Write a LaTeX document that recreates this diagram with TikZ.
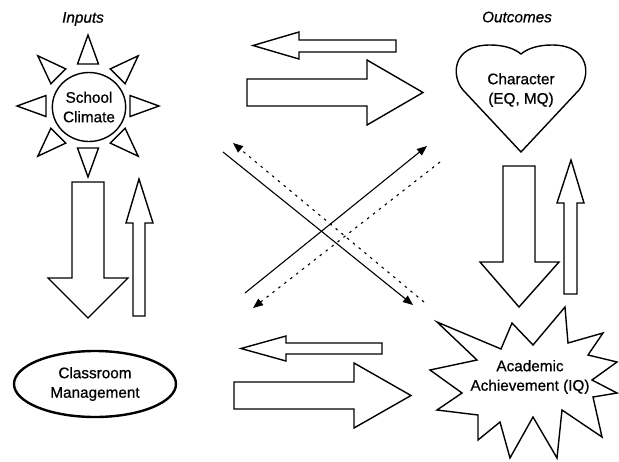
\documentclass[tikz,border=0pt]{standalone}
\usepackage{fontspec}
\setmainfont{Liberation Sans}
\newfontfamily\lblfont[FakeBold=0.7]{Liberation Sans}
\usetikzlibrary{arrows.meta,shapes.geometric}
\begin{document}
\begin{tikzpicture}[x=1pt,y=-1pt,
  blk/.style={draw=black,line width=1.4pt,fill=white,line join=miter},
  lbl/.style={align=center,font=\lblfont\fontsize{15.3}{19.5}\selectfont,inner sep=0pt},
  hdr/.style={font=\lblfont\fontsize{15.3}{18}\selectfont\itshape,inner sep=0pt},
  con/.style={line width=1.1pt,-{Triangle[length=10pt,width=8pt]}},
  dcon/.style={con,dash pattern=on 2.5pt off 5pt}]
\useasboundingbox (0,0) rectangle (619,461);

% headers
\node[hdr] (inputs) at (83,19) {Inputs};
\node[hdr] (outcomes) at (517,17) {Outcomes};

% sun: School Climate
\begin{scope}[shift={(88,106)}]
  \foreach \a in {0,45,...,315}
    \draw[blk,rotate=\a] (42,-10.5) -- (71,0) -- (42,10.5) -- cycle;
\end{scope}
\node[blk,ellipse,minimum width=73pt,minimum height=69pt,lbl] (climate) at (89,107) {School\\Climate};

% heart: Character
\draw[blk] (521,152) -- (463,90) .. controls (451,76) and (452,45) .. (490,45)
  .. controls (505,45) and (515,49) .. (521,54)
  .. controls (527,49) and (537,45) .. (552,45)
  .. controls (590,45) and (591,76) .. (579,90) -- cycle;
\node[lbl] (character) at (521,90) {Character\\(EQ, MQ)};

% ellipse: Classroom Management
\node[ellipse,draw,line width=2.4pt,minimum width=162pt,minimum height=66pt,lbl] (cm) at (95,384) {Classroom\\Management};

% starburst: Academic Achievement
\draw[blk] (437,322) -- (501,349) -- (512,323) -- (533,345) -- (565,307) -- (568,343)
  -- (603,333) -- (588,355) -- (617,362) -- (592,380) -- (617,393) -- (593,397)
  -- (602,437) -- (562,410) -- (557,458) -- (533,417) -- (510,458) -- (500,422)
  -- (478,440) -- (478,415) -- (437,410) -- (462,393) -- (430,370) -- (477,360) -- cycle;
\node[lbl] (academic) at (530,377) {Academic\\Achievement (IQ)};

% block arrows top
\draw[blk] (396,40) -- (299,40) -- (299,32) -- (253,45.5) -- (299,59) -- (299,52) -- (396,52) -- cycle;
\draw[blk] (247,79) -- (367,79) -- (367,60) -- (423,92.5) -- (367,125) -- (367,106) -- (247,106) -- cycle;
% block arrows bottom
\draw[blk] (382,343) -- (286,343) -- (286,336) -- (241,348.5) -- (286,361) -- (286,354) -- (382,354) -- cycle;
\draw[blk] (234,382) -- (354,382) -- (354,363) -- (411,395.5) -- (354,428) -- (354,409) -- (234,409) -- cycle;
% block arrows left
\draw[blk] (72,182) -- (104,182) -- (104,278) -- (128,278) -- (88,318) -- (48,278) -- (72,278) -- cycle;
\draw[blk] (133,316) -- (133,223) -- (126,223) -- (139,179) -- (153,223) -- (145,223) -- (145,316) -- cycle;
% block arrows right
\draw[blk] (503,166) -- (535,166) -- (535,262) -- (559,262) -- (519,307) -- (480,262) -- (503,262) -- cycle;
\draw[blk] (564,294) -- (564,203) -- (557,203) -- (571,160) -- (584,203) -- (577,203) -- (577,294) -- cycle;

% diagonal connectors
\coordinate (s1) at (223,152); \coordinate (e1) at (413,305);
\coordinate (s2) at (245,293); \coordinate (e2) at (427,146);
\coordinate (d1s) at (424,302); \coordinate (d1e) at (233,143);
\coordinate (d2s) at (440,162); \coordinate (d2e) at (253,308);
\draw[con] (s1) -- (e1);
\draw[con] (s2) -- (e2);
\draw[dcon] (d1s) -- (d1e);
\draw[dcon] (d2s) -- (d2e);
\end{tikzpicture}
\end{document}
